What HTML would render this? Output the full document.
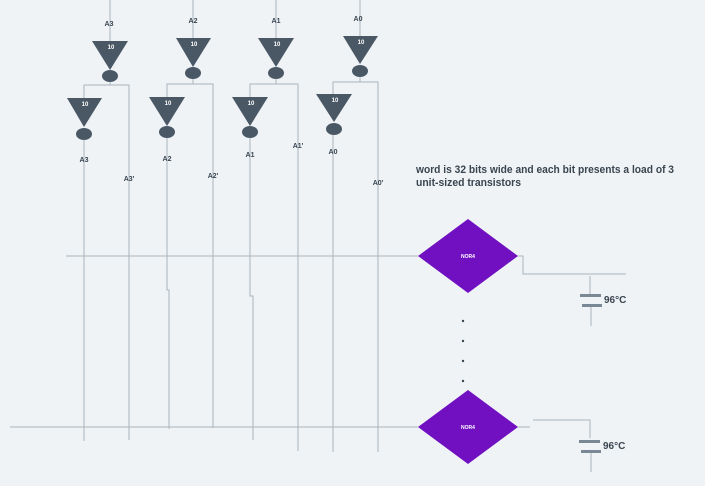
<!DOCTYPE html>
<html><head><meta charset="utf-8"><style>
html,body{margin:0;padding:0;background:#eff3f6;}
svg{display:block;font-family:"Liberation Sans",sans-serif;}
</style></head><body>
<svg width="705" height="486" viewBox="0 0 705 486">
<g id="wires" stroke="#aab4be" stroke-width="1" fill="none">
<line x1="110" y1="0" x2="110" y2="41"/><line x1="193" y1="0" x2="193" y2="38"/>
<line x1="276" y1="0" x2="276" y2="38"/><line x1="360" y1="0" x2="360" y2="36"/>
<polyline points="110,82 110,85 84,85 84,98"/><polyline points="110,85 129,85 129,440"/>
<line x1="84" y1="140" x2="84" y2="441"/>
<polyline points="193,79 193,84 167,84 167,97"/><polyline points="193,84 213,84 213,428"/>
<polyline points="167,138 167,290 169,290 169,429"/>
<polyline points="276,79 276,84 250,84 250,97"/><polyline points="276,84 298,84 298,451"/>
<polyline points="250,138 250,296 253,296 253,440"/>
<polyline points="360,77 360,82 333,82 333,94"/><polyline points="360,82 378,82 378,452"/>
<line x1="333" y1="135" x2="333" y2="452"/>
<line x1="66" y1="256" x2="418" y2="256"/><line x1="10" y1="427" x2="418" y2="427"/>
<polyline points="518,256 523,256 523,274 626,274"/>
<line x1="590" y1="276" x2="590" y2="294"/><line x1="591" y1="306" x2="591" y2="326"/>
<line x1="518" y1="427" x2="530" y2="427"/>
<polyline points="533,420 590,420 590,438"/>
<line x1="591" y1="452" x2="591" y2="472"/>
</g>
<g fill="#4a5866">
<g><polygon points="92,41 128,41 110,70"/><ellipse cx="110" cy="76" rx="8" ry="6"/></g>
<g><polygon points="176,38 211,38 193,67"/><ellipse cx="193" cy="73" rx="8" ry="6"/></g>
<g><polygon points="258,38 294,38 276,67"/><ellipse cx="276" cy="73" rx="8" ry="6"/></g>
<g><polygon points="343,36 378,36 360,64"/><ellipse cx="360" cy="71" rx="8" ry="6"/></g>
<g><polygon points="67,98 102,98 84,127"/><ellipse cx="84" cy="134" rx="8" ry="6"/></g>
<g><polygon points="149,97 185,97 167,126"/><ellipse cx="167" cy="132" rx="8" ry="6"/></g>
<g><polygon points="232,97 268,97 250,126"/><ellipse cx="250" cy="132" rx="8" ry="6"/></g>
<g><polygon points="316,94 352,94 334,122"/><ellipse cx="334" cy="129" rx="8" ry="6"/></g>
</g>
<g fill="#fff" font-size="6" font-weight="bold" text-anchor="middle">
<text x="111" y="49">10</text><text x="194" y="46">10</text><text x="277" y="46">10</text><text x="361" y="44">10</text>
<text x="85" y="106">10</text><text x="168" y="105">10</text><text x="251" y="105">10</text><text x="335" y="102">10</text>
</g>
<g fill="#3a4550" font-size="7" font-weight="bold" text-anchor="middle">
<text x="109" y="26">A3</text><text x="193" y="23">A2</text><text x="276" y="23">A1</text><text x="358" y="21">A0</text>
<text x="84" y="162">A3</text><text x="167" y="161">A2</text><text x="250" y="157">A1</text><text x="333" y="154">A0</text>
<text x="129" y="181">A3'</text><text x="213" y="178">A2'</text><text x="298" y="148">A1'</text><text x="378" y="185">A0'</text>
</g>
<text x="416" y="173" font-size="11" font-weight="bold" fill="#3a4550" textLength="258" lengthAdjust="spacingAndGlyphs">word is 32 bits wide and each bit presents a load of 3</text>
<text x="416" y="186" font-size="11" font-weight="bold" fill="#3a4550" textLength="105" lengthAdjust="spacingAndGlyphs">unit-sized transistors</text>
<g><polygon points="418,256 468,219 518,256 468,293" fill="#7010c0"/><text x="468" y="258" fill="#fff" font-size="5" font-weight="bold" text-anchor="middle">NOR4</text></g>
<g><polygon points="418,427 468,390 518,427 468,464" fill="#7010c0"/><text x="468" y="429" fill="#fff" font-size="5" font-weight="bold" text-anchor="middle">NOR4</text></g>
<g fill="#3a4550">
<circle cx="463" cy="321" r="1.2"/><circle cx="463" cy="341" r="1.2"/><circle cx="463" cy="361" r="1.2"/><circle cx="463" cy="381" r="1.2"/>
</g>
<g><rect x="580" y="294" width="21" height="3" fill="#7a8794"/><rect x="582" y="304" width="20" height="3" fill="#7a8794"/><text x="604" y="303" font-size="10" font-weight="bold" fill="#3a4550">96°C</text></g>
<g><rect x="579" y="440" width="21" height="3" fill="#7a8794"/><rect x="581" y="450" width="20" height="3" fill="#7a8794"/><text x="603" y="449" font-size="10" font-weight="bold" fill="#3a4550">96°C</text></g>
</svg>
</body></html>
